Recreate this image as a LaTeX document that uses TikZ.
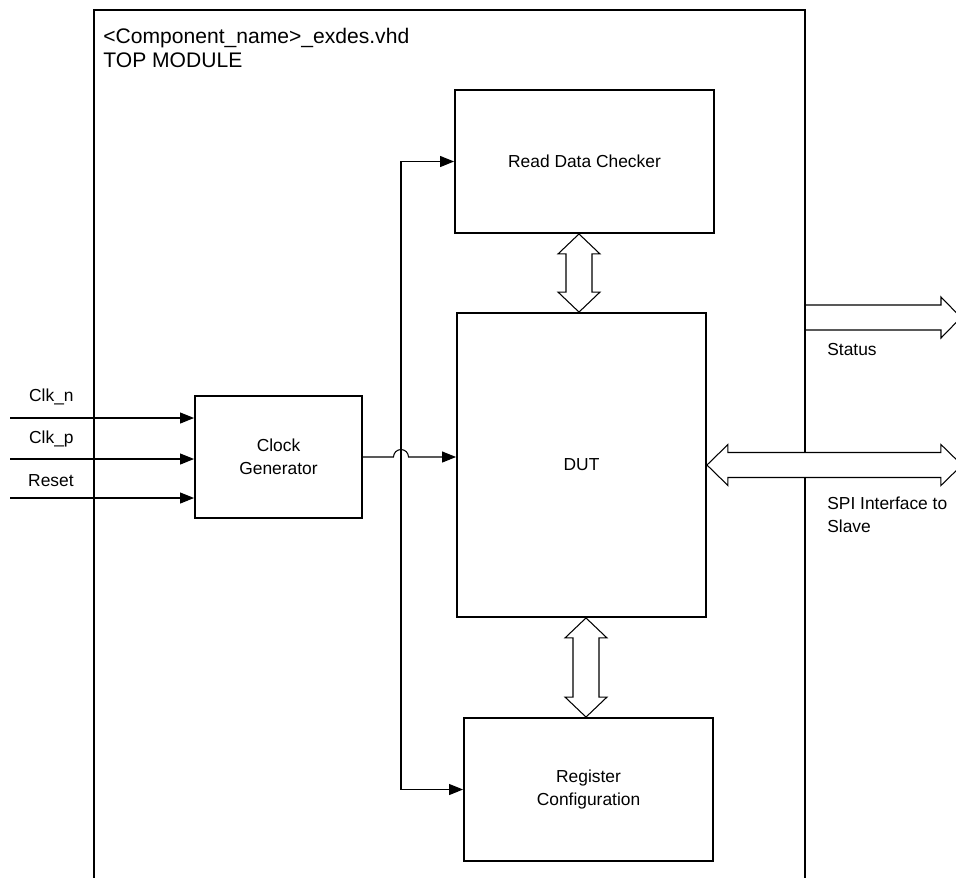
\documentclass[tikz,border=0pt]{standalone}
\usepackage{fontspec}
\setmainfont{Liberation Sans}
\usetikzlibrary{arrows.meta,calc}

\tikzset{
  blk/.style={draw,line width=1.1pt,inner sep=0pt,align=center,font=\fontsize{9.9}{13}\selectfont},
  sig/.style={line width=.6pt,-{Triangle[length=.28cm,width=.22cm]}},
  bus/.style={draw,line width=.6pt,line join=miter},
  lbl/.style={inner sep=0pt,align=left,font=\fontsize{9.9}{13}\selectfont}
}

\newcommand{\vbus}[2]{\draw[bus,fill=white] (#1) -- ++(-21,20) -- ++(8,0) -- ($(#2)+(-13,-20)$) -- ++(-8,0) -- (#2)
  -- ++(21,-20) -- ++(-8,0) -- ($(#1)+(13,20)$) -- ++(8,0) -- cycle;}
\newcommand{\hbus}[2]{\draw[bus,fill=white] (#1) -- ++(21,-20.5) -- ++(0,8) -- ($(#2)+(-21,-12.5)$) -- ++(0,-8) -- (#2)
  -- ++(-21,20.5) -- ++(0,-8) -- ($(#1)+(21,12.5)$) -- ++(0,8) -- cycle;}

\begin{document}
\begin{tikzpicture}[x=.02cm,y=-.02cm]
  \useasboundingbox (0,0) rectangle (956,877);

  \draw[line width=1.1pt] (94,895) -- (94,10) -- (805,10) -- (805,895);
  \node[lbl,anchor=north west,font=\fontsize{12}{13.6}\selectfont] (title) at (103,27.5)
    {<Component\_name>\_exdes.vhd\\TOP MODULE};

  \node[blk,minimum width=5.18cm,minimum height=2.86cm] (rdc) at (584.5,161.5) {Read Data Checker};
  \node[blk,minimum width=4.98cm,minimum height=6.08cm] (dut) at (581.5,465) {DUT};
  \node[blk,minimum width=4.98cm,minimum height=2.86cm] (reg) at (588.5,789.5) {Register\\Configuration};
  \node[blk,minimum width=3.34cm,minimum height=2.44cm] (clk) at (278.5,457) {Clock\\Generator};

  \foreach \name/\y/\ly in {Clk\_n/418/401,Clk\_p/459/443,Reset/498/486} {
    \node[lbl,anchor=base east] (lab\y) at (74,\ly) {\name};
    \coordinate (in\y) at (10,\y);
    \draw[sig] (in\y) -- (in\y -| clk.west);
  }

  \coordinate (tap) at (401,0);
  \draw[sig] (clk.east) -- ($(tap |- clk.east)+(-7.5,0)$) arc[start angle=180,end angle=0,radius=.15cm]
    -- (clk.east -| dut.west);
  \draw[sig] (tap |- clk.east) |- (rdc.west);
  \draw[sig] (tap |- clk.east) |- (reg.west);

  \coordinate (b1) at ($(rdc.south)+(-5.5,0)$);
  \coordinate (b2) at ($(dut.north)+(-2.5,0)$);
  \coordinate (b3) at ($(dut.south)+(4.5,0)$);
  \coordinate (b4) at ($(reg.north)+(-2.5,0)$);
  \vbus{b1}{b2}
  \vbus{b3}{b4}

  \coordinate (st) at (805,317.5);
  \coordinate (stend) at (961,317.5);
  \draw[bus] ($(st)+(0,-12.5)$) -- ($(stend)+(-20,-12.5)$) -- ++(0,-8) -- (stend)
    -- ++(-20,20.5) -- ++(0,-8) -- ($(st)+(0,12.5)$);
  \node[lbl,anchor=west] (status) at (827,350) {Status};

  \coordinate (spi) at ($(dut.east)+(255,0)$);
  \hbus{dut.east}{spi}
  \node[lbl,anchor=west] (spilab) at (827,515) {SPI Interface to\\Slave};
\end{tikzpicture}
\end{document}
